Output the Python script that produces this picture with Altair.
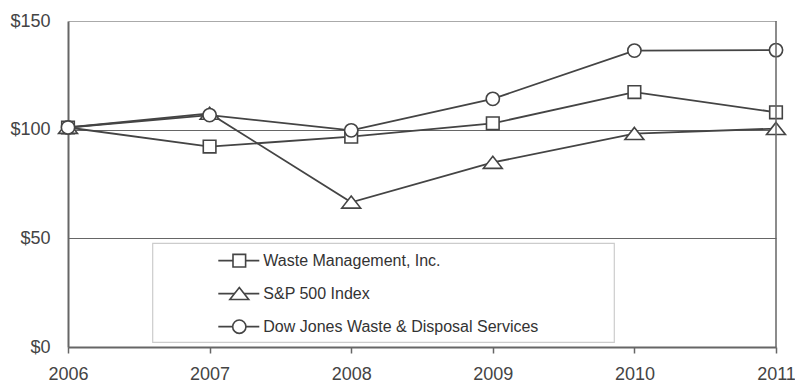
import altair as alt
import pandas as pd

years = [2006, 2007, 2008, 2009, 2010, 2011]
series_names = ["Waste Management, Inc.", "S&P 500 Index", "Dow Jones Waste & Disposal Services"]
wm = [101, 92.2, 96.8, 102.9, 117.3, 108.0]
sp = [101, 107.5, 66.6, 84.9, 98.2, 100.5]
dj = [101, 106.7, 99.7, 114.2, 136.4, 136.6]
y_ticks = [0, 50, 100, 150]

rows = []
for name, vals in zip(series_names, [wm, sp, dj]):
    for yr, v in zip(years, vals):
        rows.append({"year": yr, "value": v, "series": name})
df = pd.DataFrame(rows)
leg_df = pd.DataFrame({"series": series_names})

W, H = 708, 326
INK = "#444444"
AX = "#666666"
FONT = "Liberation Sans"
SYM = 169

square_path = "M-0.97,-0.97L0.97,-0.97L0.97,0.97L-0.97,0.97Z"
tri_path = "M0,-0.95L1.45,0.9L-1.45,0.9Z"
circle_path = "M1.02,0A1.02,1.02,0,1,1,-1.02,0A1.02,1.02,0,1,1,1.02,0Z"
shape_scale = alt.Scale(domain=series_names, range=[square_path, tri_path, circle_path])

x_enc = alt.X("year:Q", title=None,
              scale=alt.Scale(domain=[2006, 2011], nice=False, zero=False),
              axis=alt.Axis(values=years, format="d", grid=False, tickSize=6, tickColor=AX,
                            tickWidth=1.5, domainColor=AX, domainWidth=2, labelFlush=False,
                            labelPadding=12, labelFontSize=18, labelFont=FONT,
                            labelColor="#444444"))
y_enc = alt.Y("value:Q", title=None,
              scale=alt.Scale(domain=[0, 150], nice=False),
              axis=alt.Axis(values=y_ticks, labelExpr="'$' + datum.value", ticks=False,
                            domainColor=AX, domainWidth=2, labelPadding=18, labelFlush=False,
                            labelFontSize=18, labelFont=FONT, labelColor="#444444",
                            gridColor={"condition": {"test": "datum.value === 150", "value": "#aaaaaa"},
                                       "value": "#666666"},
                            gridWidth=1.2, gridOpacity=1))

base = alt.Chart(df)
lines = base.mark_line(color=INK, strokeWidth=1.8).encode(x=x_enc, y=y_enc, detail="series:N")
pts = base.mark_point(filled=True, fill="white", stroke=INK, strokeWidth=1.6, opacity=1, size=SYM).encode(
    x="year:Q", y="value:Q",
    shape=alt.Shape("series:N", scale=shape_scale, legend=None),
)
right_border = alt.Chart(leg_df.head(1)).mark_rule(color=AX, strokeWidth=1.5).encode(
    x=alt.value(W), y=alt.value(0), y2=alt.value(H))

main = alt.layer(lines, pts, right_border)

leg_y = alt.Y("series:N", title=None, axis=None,
              scale=alt.Scale(type="point", domain=series_names, range=[239.7, 305.7], padding=0))
leg = alt.Chart(leg_df)
box = alt.Chart(leg_df.head(1)).mark_rect(fill="white", stroke="#cccccc", strokeWidth=1.2).encode(
    x=alt.value(84.7), x2=alt.value(546.3), y=alt.value(222.3), y2=alt.value(321.3))
leg_lines = leg.mark_rule(color=INK, strokeWidth=1.8).encode(
    x=alt.value(150.3), x2=alt.value(191.3), y=leg_y)
leg_pts = leg.mark_point(filled=True, fill="white", stroke=INK, strokeWidth=1.6, opacity=1, size=SYM).encode(
    x=alt.value(171.3), y=leg_y,
    shape=alt.Shape("series:N", scale=shape_scale, legend=None),
)
leg_text = leg.mark_text(align="left", baseline="middle", fontSize=16, font=FONT, color="#333333").encode(
    x=alt.value(195.3), y=leg_y, text="series:N")
legend = alt.layer(box, leg_lines, leg_pts, leg_text)

chart = alt.layer(main, legend).resolve_scale(y="independent").properties(
    width=W, height=H, autosize="none",
    padding={"left": 68, "top": 21, "right": 19, "bottom": 36},
).configure_view(stroke=None)

chart.save("out.html", embed_options={"renderer": "svg", "actions": False})
